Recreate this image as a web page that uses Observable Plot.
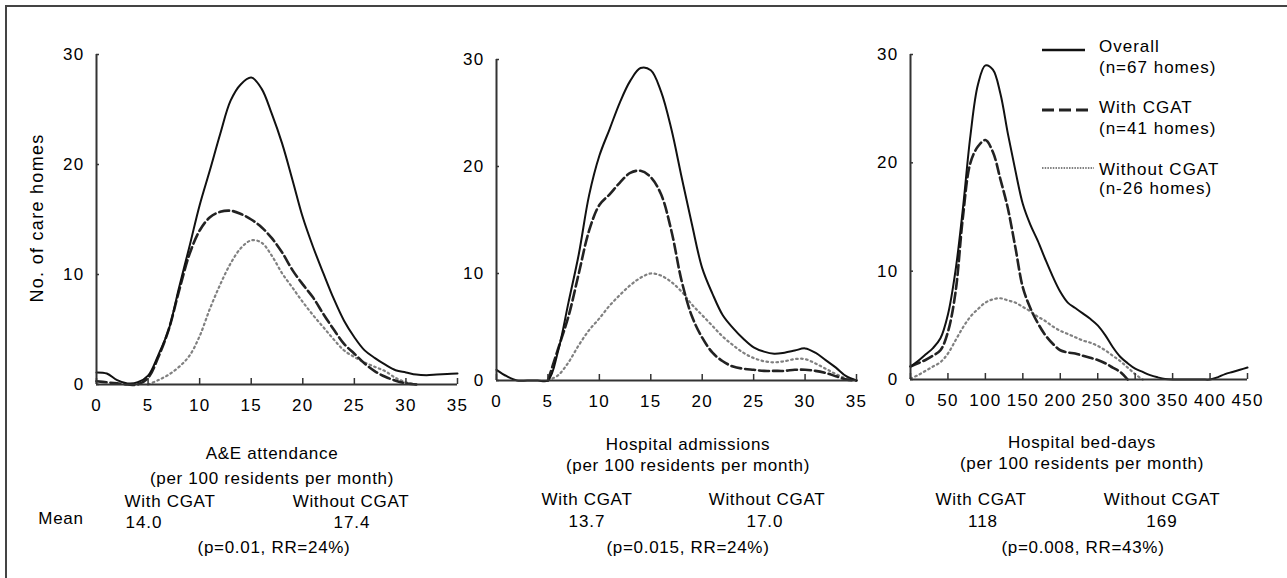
<!DOCTYPE html>
<html><head><meta charset="utf-8">
<script src="https://cdn.jsdelivr.net/npm/d3@7"></script>
<script src="https://cdn.jsdelivr.net/npm/@observablehq/plot@0.6"></script>
<style>
html,body{margin:0;padding:0;background:#fff;}
#wrap{position:relative;width:1287px;height:578px;overflow:hidden;font-family:"Liberation Sans",Arial,sans-serif;color:#000;background:#fff;}
#frame{position:absolute;left:5px;top:5px;width:1300px;height:600px;border:2px solid #444;box-sizing:border-box;}
.t{position:absolute;white-space:nowrap;font-size:17px;letter-spacing:0.7px;line-height:17px;}
.panel{position:absolute;top:0;}
</style></head>
<body><div id="wrap"><div id="frame"></div></div>
<script>
// ---------- DATA ----------
const yTicks = [0, 10, 20, 30];
const aeTicks = [0, 5, 10, 15, 20, 25, 30, 35];
const admTicks = [0, 5, 10, 15, 20, 25, 30, 35];
const bedTicks = [0, 50, 100, 150, 200, 250, 300, 350, 400, 450];

// A&E attendance
const aeX = [0,1,2,3,4,5,6,7,8,9,10,11,12,13,14,15,16,17,18,19,20,21,22,23,24,25,26,27,28,29,30,31,32,33,34,35];
const aeOverall = [1.1,1.0,0.4,0.1,0.2,0.8,2.7,5.0,8.8,12.5,16.3,19.5,22.8,25.8,27.3,27.9,26.9,24.6,21.9,18.6,15.2,12.5,10.1,7.8,5.8,4.3,3.1,2.4,1.8,1.3,1.1,0.9,0.85,0.9,0.95,1.0];
const aeWith = [0.3,0.2,0.1,0,0,0.6,2.5,5.0,8.5,11.8,14.0,15.2,15.7,15.8,15.5,15.0,14.3,13.3,12.0,10.4,9.1,7.9,6.4,5.0,3.7,2.8,1.9,1.2,0.7,0.35,0.1,0,null,null,null,null];
const aeWithout = [null,null,null,null,null,0,0.4,0.9,1.6,2.6,4.4,6.9,9.1,11.0,12.4,13.1,12.9,11.7,10.1,8.8,7.5,6.3,5.2,4.1,3.1,2.5,2.0,1.6,1.2,0.6,0.2,0,null,null,null,null];

// Hospital admissions
const admX = [0,1,2,3,4,5,6,7,8,9,10,11,12,13,14,15,16,17,18,19,20,21,22,23,24,25,26,27,28,29,30,31,32,33,34,35];
const admOverall = [1.0,0.4,0,0,0,0,2.8,7.3,11.8,17.3,21.0,23.5,26.0,28.0,29.2,29.0,27.0,23.5,19.0,14.6,10.5,8.1,6.1,4.9,3.9,3.1,2.7,2.5,2.6,2.8,3.0,2.6,1.9,1.2,0.4,0];
const admWith = [null,null,null,null,null,0,3.0,6.0,10.0,14.0,16.4,17.4,18.5,19.4,19.6,19.0,17.4,14.0,9.3,6.0,4.0,2.6,1.8,1.3,1.1,1.0,0.9,0.9,0.9,1.0,1.0,0.9,0.7,0.4,0.1,0];
const admWithout = [null,null,null,null,null,0,0.5,1.7,3.3,4.7,5.8,7.0,8.0,8.9,9.6,10.0,9.8,9.2,8.3,7.1,6.1,5.1,4.1,3.3,2.6,2.1,1.8,1.7,1.8,2.0,2.0,1.6,1.1,0.6,0.2,0];

// Hospital bed-days
const bedX = [0,10,20,30,40,50,60,70,80,90,100,110,120,130,140,150,160,170,180,190,200,210,220,230,240,250,260,270,280,290,300,310,320,330,340,350,360,370,380,390,400,410,420,430,440,450];
const bedOverall = [1.2,1.7,2.3,2.9,3.8,6.0,10.0,15.8,22.5,27.2,29.0,28.6,26.4,22.7,19.3,16.2,14.3,12.8,11.1,9.5,8.1,7.1,6.6,6.1,5.6,5.0,4.1,3.0,2.1,1.5,1.0,0.7,0.4,0.2,0.05,0,0,0,0,0,0,0.2,0.5,0.7,0.9,1.1];
const bedWith = [1.2,1.5,1.8,2.2,2.7,4.4,8.0,15.0,20.0,21.5,22.1,21.0,18.5,15.8,12.2,8.5,6.6,5.2,4.1,3.3,2.7,2.5,2.4,2.2,2.0,1.8,1.5,1.1,0.7,0,null,null,null,null,null,null,null,null,null,null,null,null,null,null,null,null];
const bedWithout = [0.1,0.4,0.8,1.2,1.6,2.4,3.6,4.8,5.8,6.5,7.1,7.4,7.5,7.3,7.1,6.7,6.3,5.8,5.4,4.9,4.5,4.2,3.9,3.6,3.4,3.1,2.7,2.2,1.7,1.1,0.5,0,null,null,null,null,null,null,null,null,null,null,null,null,null,null];

// Texts
const yLabel = "No. of care homes";
const panelTitles = ["A&E attendance", "Hospital admissions", "Hospital bed-days"];
const unitLabel = "(per 100 residents per month)";
const groupLabels = ["With CGAT", "Without CGAT"];
const meanLabel = "Mean";
const meanValues = [["14.0", "17.4"], ["13.7", "17.0"], ["118", "169"]];
const statLabels = ["(p=0.01, RR=24%)", "(p=0.015, RR=24%)", "(p=0.008, RR=43%)"];
const legendNames = ["Overall", "With CGAT", "Without CGAT"];
const legendCounts = ["(n=67 homes)", "(n=41 homes)", "(n-26 homes)"];

// ---------- STYLES / LAYOUT ----------
const FONT = '"Liberation Sans", Arial, sans-serif';
const seriesStyles = [
  {stroke: "#111", strokeWidth: 2, dash: null},
  {stroke: "#222", strokeWidth: 2.6, dash: "10,4"},
  {stroke: "#808080", strokeWidth: 2.2, dash: "1.6,3.4"}
];
const panelLayout = [
  {left: 0,   width: 470, mL: 96, mR: 13, mT: 54, mB: 36, height: 420},
  {left: 470, width: 400, mL: 26, mR: 14, mT: 59, mB: 40, height: 420},
  {left: 870, width: 402, mL: 40, mR: 25, mT: 54, mB: 41, height: 420}
];
const textLayout = [
  {title: [272, 459], unit: [272, 484], groups: [[170, 507], [351, 507]], means: [[144, 528], [352, 528]], stat: [274, 553]},
  {title: [688, 450], unit: [688, 471], groups: [[587, 505], [767, 505]], means: [[587, 527], [765, 527]], stat: [688, 553]},
  {title: [1082, 448], unit: [1082, 469], groups: [[981, 505], [1162, 505]], means: [[983, 527], [1162, 527]], stat: [1083, 553]}
];

const wrap = document.getElementById("wrap");
const rows = (xs, ys) => xs.map((x, i) => ({x, y: ys[i]})).filter(d => d.y != null);

const panels = [
  {x: aeX, series: [aeOverall, aeWith, aeWithout], ticks: aeTicks, domain: [0, 35]},
  {x: admX, series: [admOverall, admWith, admWithout], ticks: admTicks, domain: [0, 35]},
  {x: bedX, series: [bedOverall, bedWith, bedWithout], ticks: bedTicks, domain: [0, 450]}
];

panels.forEach((p, i) => {
  const L = panelLayout[i];
  const lineMarks = p.series.map((ys, k) => Plot.line(rows(p.x, ys), {
    x: "x", y: "y", curve: "catmull-rom",
    stroke: seriesStyles[k].stroke, strokeWidth: seriesStyles[k].strokeWidth,
    strokeDasharray: seriesStyles[k].dash
  }));
  const chart = Plot.plot({
    width: L.width, height: L.height,
    marginLeft: L.mL, marginRight: L.mR, marginTop: L.mT, marginBottom: L.mB,
    style: {fontFamily: FONT, fontSize: "17px", letterSpacing: "1.3px", color: "#000", background: "transparent", overflow: "visible"},
    x: {domain: p.domain},
    y: {domain: [0, 30]},
    marks: [
      ...lineMarks.reverse(),
      Plot.ruleX([0], {stroke: "#333", strokeWidth: 2}),
      Plot.ruleY([0], {stroke: "#333", strokeWidth: 2}),
      Plot.axisX(p.ticks, {tickSize: 6, dy: -6, fill: "none", stroke: "#333", strokeWidth: 1.5, label: null}),
      Plot.axisX(p.ticks, {tickSize: 0, tickPadding: 14, label: null}),
      Plot.axisY(yTicks, {tickSize: 3, dx: 3, fill: "none", stroke: "#333", strokeWidth: 1.5, label: null}),
      Plot.axisY(yTicks, {tickSize: 0, tickPadding: 12, label: null})
    ]
  });
  chart.classList.add("panel");
  chart.style.left = L.left + "px";
  wrap.appendChild(chart);
});

// text helper: x = center x (or left x if align left), baseline y
function put(text, x, baseline, opts = {}) {
  const d = document.createElement("div");
  d.className = "t";
  d.textContent = text;
  d.style.left = x + "px";
  d.style.top = (baseline - 14.4) + "px";
  if (opts.align !== "left") d.style.transform = "translateX(-50%)";
  if (opts.letterSpacing) d.style.letterSpacing = opts.letterSpacing;
  wrap.appendChild(d);
  return d;
}

textLayout.forEach((T, i) => {
  put(panelTitles[i], T.title[0], T.title[1]);
  put(unitLabel, T.unit[0], T.unit[1]);
  groupLabels.forEach((g, j) => put(g, T.groups[j][0], T.groups[j][1]));
  meanValues[i].forEach((v, j) => put(v, T.means[j][0], T.means[j][1], {letterSpacing: "1px"}));
  put(statLabels[i], T.stat[0], T.stat[1]);
});
put(meanLabel, 61, 524);

// y-axis label (rotated)
const yl = document.createElement("div");
yl.className = "t";
yl.textContent = yLabel;
yl.style.fontSize = "18px";
yl.style.lineHeight = "18px";
yl.style.letterSpacing = "1.3px";
yl.style.left = "37px";
yl.style.top = "218px";
yl.style.transform = "translate(-50%,-50%) rotate(-90deg)";
wrap.appendChild(yl);

// legend
const legendLayout = {x1: 1042, x2s: [1085, 1092, 1094], lineY: [50, 110, 168], textX: 1099, nameBase: [52, 113, 175], countBase: [73, 134, 194]};
const lg = d3.create("svg").attr("width", 1287).attr("height", 578)
  .style("position", "absolute").style("left", 0).style("top", 0).style("overflow", "visible");
legendNames.forEach((n, k) => {
  lg.append("line")
    .attr("x1", legendLayout.x1).attr("x2", legendLayout.x2s[k])
    .attr("y1", legendLayout.lineY[k]).attr("y2", legendLayout.lineY[k])
    .attr("stroke", seriesStyles[k].stroke)
    .attr("stroke-width", k === 2 ? 2 : seriesStyles[k].strokeWidth + 0.4)
    .attr("stroke-dasharray", k === 1 ? "12,5" : k === 2 ? "1.5,1.2" : null);
  put(n, legendLayout.textX, legendLayout.nameBase[k], {align: "left", letterSpacing: "1px"});
  put(legendCounts[k], legendLayout.textX, legendLayout.countBase[k], {align: "left", letterSpacing: "1px"});
});
wrap.appendChild(lg.node());
</script>
</body></html>
